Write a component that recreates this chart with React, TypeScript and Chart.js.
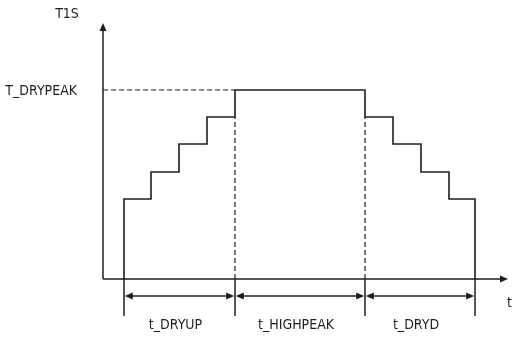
import React, { useEffect, useRef } from "react";
import { Chart, registerables } from "chart.js";

Chart.register(...registerables);

// ---- data (time units / level units, origin at axes corner) ----
const stepTimes = [21, 48, 76, 104, 132, 262, 290, 318, 346, 372];
const stepLevels = [80, 107, 135, 162, 189, 162, 135, 107, 80, 0];
const phaseBounds = [21, 132, 262, 372];
const phaseNames = ["t_DRYUP", "t_HIGHPEAK", "t_DRYD"];
const peakLevel = 189;
const peakLabel = "T_DRYPEAK";
const yAxisLabel = "T1S";
const xAxisLabel = "t";
const xAxisEnd = 405;
const yAxisEnd = 256;

const INK = "#1e1e1e";
const FONT = '14px "Liberation Sans Narrow", "Arial Narrow", "DejaVu Sans Condensed", sans-serif';

const diagramPlugin = {
  id: "diagram",
  afterDatasetsDraw(chart: any) {
    const { ctx, scales } = chart;
    const px = (v: number) => scales.x.getPixelForValue(v);
    const py = (v: number) => scales.y.getPixelForValue(v);
    ctx.save();
    ctx.strokeStyle = INK;
    ctx.fillStyle = INK;
    ctx.lineWidth = 1.5;
    const line = (x1: number, y1: number, x2: number, y2: number) => {
      ctx.beginPath();
      ctx.moveTo(x1, y1);
      ctx.lineTo(x2, y2);
      ctx.stroke();
    };
    const arrow = (tx: number, ty: number, ang: number, len = 8, hw = 3.5) => {
      const c = Math.cos(ang), s = Math.sin(ang);
      ctx.beginPath();
      ctx.moveTo(tx, ty);
      ctx.lineTo(tx - len * c - hw * s, ty - len * s + hw * c);
      ctx.lineTo(tx - len * c + hw * s, ty - len * s - hw * c);
      ctx.closePath();
      ctx.fill();
    };
    // axes
    const ox = px(0), oy = py(0);
    line(ox, oy, px(xAxisEnd) - 5, oy);
    arrow(px(xAxisEnd), oy, 0);
    line(ox, oy, ox, py(yAxisEnd) + 5);
    arrow(ox, py(yAxisEnd), -Math.PI / 2);

    // extension lines below axis
    const extY = py(-37);
    phaseBounds.forEach((b) => line(px(b), oy, px(b), extY));

    // dimension arrows
    const dimY = py(-17);
    for (let i = 0; i < phaseBounds.length - 1; i++) {
      const a = px(phaseBounds[i]) + 0.8, b = px(phaseBounds[i + 1]) - 0.8;
      line(a + 5, dimY, b - 5, dimY);
      arrow(a, dimY, Math.PI);
      arrow(b, dimY, 0);
    }

    // texts
    ctx.font = FONT;
    ctx.textBaseline = "middle";
    ctx.textAlign = "center";
    for (let i = 0; i < phaseNames.length; i++) {
      const mid = (px(phaseBounds[i]) + px(phaseBounds[i + 1])) / 2;
      ctx.fillText(phaseNames[i], mid - 4, py(-46));
    }
    ctx.fillText(yAxisLabel, ox - 36, py(yAxisEnd) - 9);
    ctx.textAlign = "right";
    ctx.fillText(peakLabel, ox - 26, py(peakLevel) + 1);
    ctx.textAlign = "left";
    ctx.fillText(xAxisLabel, px(xAxisEnd) - 1, oy + 24);
    ctx.restore();
  },
};

export default function App() {
  const ref = useRef<HTMLCanvasElement>(null);
  useEffect(() => {
    if (!ref.current) return;
    const profile = [{ x: phaseBounds[0], y: 0 }, ...stepTimes.map((t, i) => ({ x: t, y: stepLevels[i] }))];
    const dashed = {
      showLine: true,
      pointRadius: 0,
      borderColor: INK,
      borderWidth: 1.2,
      borderDash: [5, 3],
    };
    const chart = new Chart(ref.current, {
      type: "scatter",
      data: {
        datasets: [
          { ...dashed, data: [{ x: 0, y: peakLevel }, { x: phaseBounds[1], y: peakLevel }] },
          { ...dashed, data: [{ x: phaseBounds[1], y: 0 }, { x: phaseBounds[1], y: stepLevels[3] }] },
          { ...dashed, data: [{ x: phaseBounds[2], y: 0 }, { x: phaseBounds[2], y: stepLevels[5] }] },
          {
            data: profile,
            showLine: true,
            stepped: true,
            pointRadius: 0,
            borderColor: INK,
            borderWidth: 1.6,
          },
        ],
      },
      options: {
        animation: false,
        responsive: false,
        layout: { padding: 0 },
        plugins: { legend: { display: false }, tooltip: { enabled: false } },
        events: [],
        scales: {
          x: { type: "linear", min: -103, max: 409, display: false },
          y: { type: "linear", min: -61, max: 279, display: false },
        },
      },
      plugins: [diagramPlugin],
    });
    return () => chart.destroy();
  }, []);
  return (
    <div style={{ position: "fixed", left: 0, top: 0, width: 512, height: 340, background: "#fff" }}>
      <canvas ref={ref} width={512} height={340} />
    </div>
  );
}
